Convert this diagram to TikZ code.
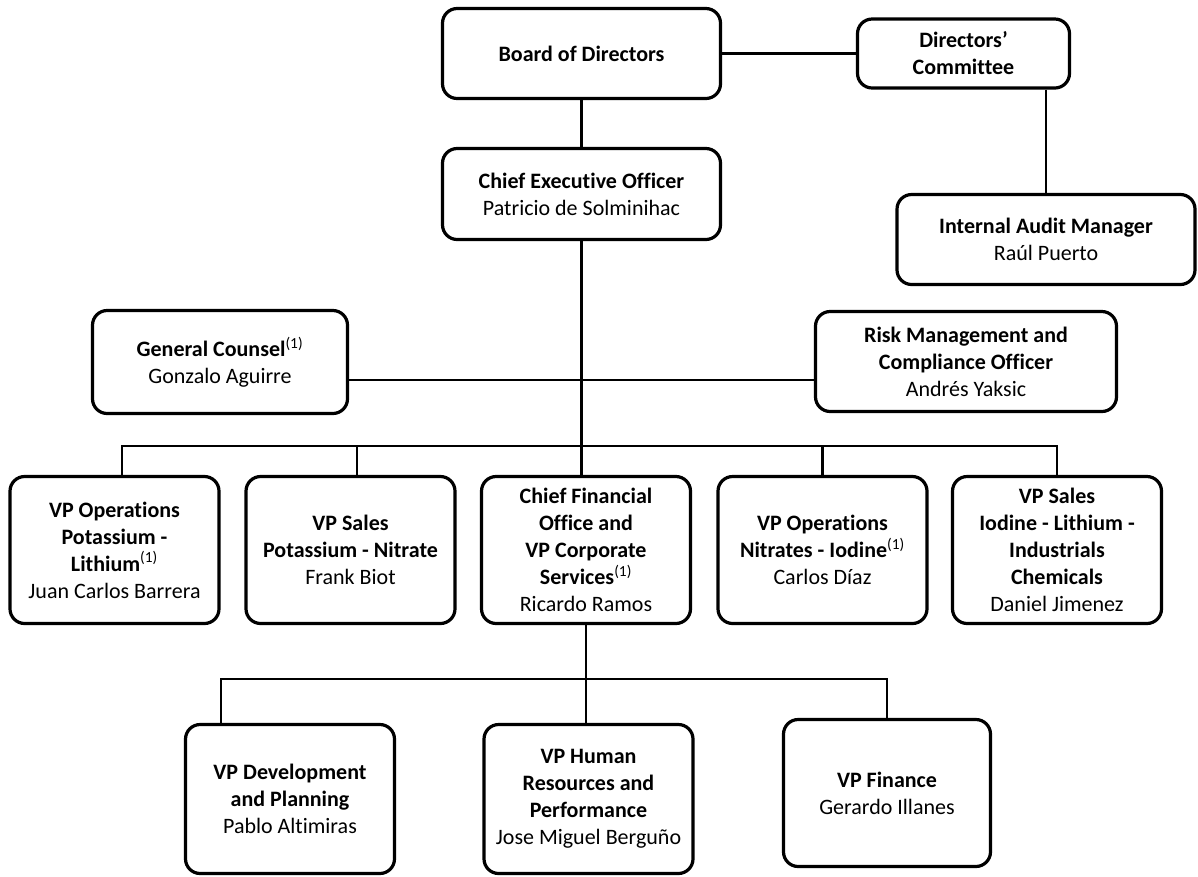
\documentclass[tikz,border=0pt]{standalone}
\usepackage{fontspec}
\setmainfont{Carlito}[Ligatures=NoCommon]

\begin{document}
\begin{tikzpicture}[x=0.75pt,y=-0.75pt,
	box/.style 2 args={draw,line width=2.4pt,rounded corners=11pt,align=center,inner sep=2pt,
		minimum width=#1,minimum height=#2,font=\fontsize{16.5pt}{20.25pt}\selectfont},
	link/.style={line width=1.8pt}]
			\useasboundingbox (0,0) rectangle (1198,876);
			\node[box={208.5pt}{67.5pt}] (board) at (581.5,53.5) {\textbf{Board of Directors}};
			\node[box={159pt}{51.75pt}] (dc) at (963.5,53.5) {\textbf{Directors’}\\\textbf{Committee}};
			\node[box={208.5pt}{68.25pt}] (ceo) at (581.5,194) {\textbf{Chief Executive Officer}\\Patricio de Solminihac};
			\node[box={223.5pt}{67.5pt}] (ia) at (1046,239.5) {\textbf{Internal Audit Manager}\\Raúl Puerto};
			\node[box={191.25pt}{77.25pt}] (gc) at (220,362) {\textbf{General Counsel}\textsuperscript{(1)}\\Gonzalo Aguirre};
			\node[box={225.75pt}{75pt}] (risk) at (966,361.5) {\textbf{Risk Management and}\\\textbf{Compliance Officer}\\Andrés Yaksic};

			\node[box={156.75pt}{110.25pt}] (opsk) at (114.5,550) {\textbf{VP Operations}\\\textbf{Potassium -}\\\textbf{Lithium}\textsuperscript{(1)}\\Juan Carlos Barrera};
			\node[box={156.75pt}{110.25pt}] (salesk) at (350.5,550) {\textbf{VP Sales}\\\textbf{Potassium - Nitrate}\\Frank Biot};
			\node[box={156.75pt}{110.25pt}] (cfo) at (586,550) {\textbf{Chief Financial}\\\textbf{Office and}\\\textbf{VP Corporate}\\\textbf{Services}\textsuperscript{(1)}\\Ricardo Ramos};
			\node[box={156.75pt}{110.25pt}] (opsn) at (822.5,550) {\textbf{VP Operations}\\\textbf{Nitrates - Iodine}\textsuperscript{(1)}\\Carlos Díaz};
			\node[box={156.75pt}{110.25pt}] (salesi) at (1057,550) {\textbf{VP Sales}\\\textbf{Iodine - Lithium -}\\\textbf{Industrials}\\\textbf{Chemicals}\\Daniel Jimenez};

			\node[box={156.75pt}{111.75pt}] (dev) at (290,799) {\textbf{VP Development}\\\textbf{and Planning}\\Pablo Altimiras};
			\node[box={156.75pt}{111.75pt}] (hr) at (588.5,799) {\textbf{VP Human}\\\textbf{Resources and}\\\textbf{Performance}\\Jose Miguel Berguño};
			\node[box={155.25pt}{110.25pt}] (fin) at (887,793) {\textbf{VP Finance}\\Gerardo Illanes};

			\coordinate (vpbus) at (581.5,446);
			\coordinate (cfobus) at (586,679);

			\draw[link] (board.east) -- (board.east -| dc.west);
			\draw[link] (board) -- (ceo);
			\draw[link] (dc.south -| ia.north) -- (ia.north);
			\draw[link] (ceo.south) -- (ceo.south |- cfo.north);
			\draw[link] ([yshift=-13.5pt]gc.east) -- ([yshift=-13.5pt]gc.east -| risk.west);
			\draw[link] ([xshift=5.5pt]opsk.north) |- (salesi.north |- vpbus) -- (salesi.north);
			\draw[link] ([xshift=5pt]salesk.north) -- ([xshift=5pt]salesk.north |- vpbus);
			\draw[link] (opsn.north) -- (opsn.north |- vpbus);
			\draw[link] (cfo.south) -- (cfo.south |- hr.north);
			\draw[link] ([xshift=-51.75pt]dev.north) |- (fin.north |- cfobus) -- (fin.north);
\end{tikzpicture}
\end{document}
